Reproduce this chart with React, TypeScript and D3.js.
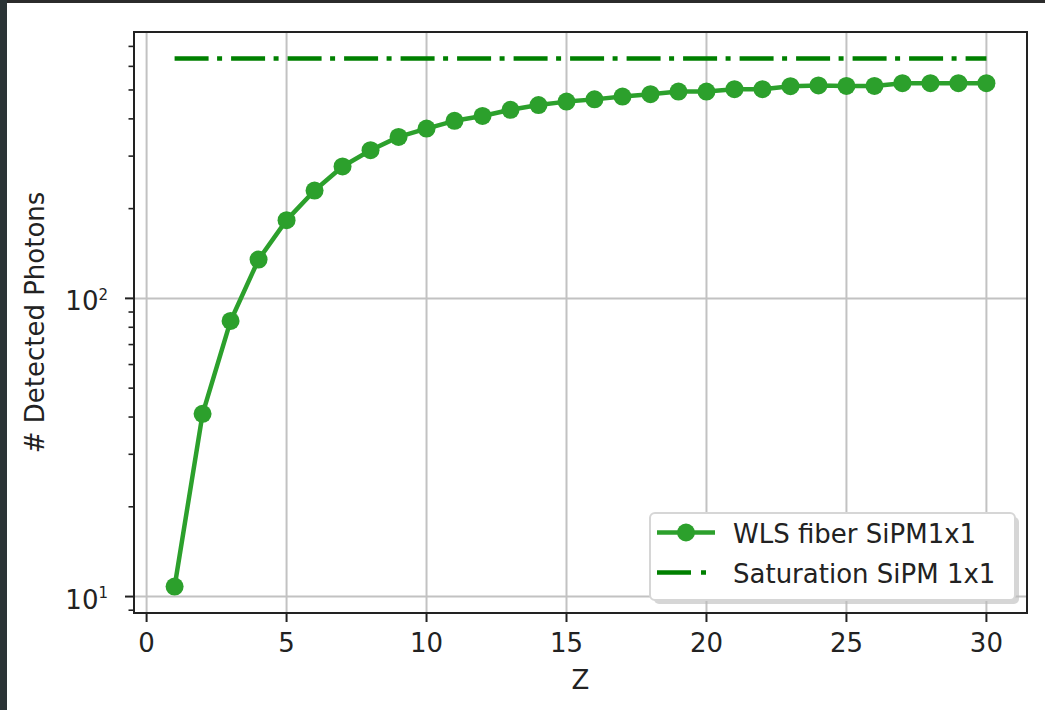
import React from "react";
import * as d3 from "d3";

const zValues = [1, 2, 3, 4, 5, 6, 7, 8, 9, 10, 11, 12, 13, 14, 15, 16, 17, 18, 19, 20, 21, 22, 23, 24, 25, 26, 27, 28, 29, 30];
const detectedPhotons = [10.8, 41, 84, 135, 183, 230, 277, 314, 348, 371, 394, 409, 429, 445, 457, 465, 475, 484, 494, 494, 503, 503, 515, 518, 516, 516, 527, 527, 527, 527];
const saturationLevel = 638;
const xTickValues = [0, 5, 10, 15, 20, 25, 30];
const seriesLabels = ["WLS fiber SiPM1x1", "Saturation SiPM 1x1"];
const xLabel = "Z";
const yLabel = "# Detected Photons";

const W = 1045;
const H = 710;
const L = 134, R = 1027, T = 32, B = 613;
const FONT = "DejaVu Sans, sans-serif";
const TEXT = "#222";
const GRID = "#c2c2c2";
const C_DATA = "#2ca02c";
const C_SAT = "#008000";

export default function App() {
  const xMin = d3.min(zValues)!, xMax = d3.max(zValues)!;
  const xm = (xMax - xMin) * 0.05;
  const x = d3.scaleLinear().domain([xMin - xm, xMax + xm]).range([L, R]);

  const lo = Math.log10(d3.min(detectedPhotons)!);
  const hi = Math.log10(Math.max(d3.max(detectedPhotons)!, saturationLevel));
  const ym = (hi - lo) * 0.05;
  const y = d3.scaleLog().domain([Math.pow(10, lo - ym), Math.pow(10, hi + ym)]).range([B, T]);

  const allYTicks = y.ticks();
  const isMajor = (v: number) => Math.abs(Math.log10(v) - Math.round(Math.log10(v))) < 1e-9;
  const majorY = allYTicks.filter(isMajor);
  const minorY = allYTicks.filter((v) => !isMajor(v));

  const line = d3.line<number>().x((_, i) => x(zValues[i])).y((d) => y(d));
  const pts = detectedPhotons;

  const legX = 650, legY = 513, legW = 365, legH = 87;
  const row1 = 532.5, row2 = 572.5;
  const hx0 = 657, hx1 = 715;

  return (
    <svg width={W} height={H} style={{ position: "absolute", left: 0, top: 0, background: "#fff" }} fontFamily={FONT}>
      <rect x={0} y={0} width={W} height={H} fill="#fff" />
      <rect x={0} y={0} width={W} height={3} fill="#2b2b2b" />
      <rect x={0} y={0} width={7} height={H} fill="#2b3436" />

      {/* grid */}
      {xTickValues.map((t) => (
        <line key={"gx" + t} x1={x(t)} x2={x(t)} y1={T} y2={B} stroke={GRID} strokeWidth={2} />
      ))}
      {majorY.map((t) => (
        <line key={"gy" + t} x1={L} x2={R} y1={y(t)} y2={y(t)} stroke={GRID} strokeWidth={2} />
      ))}

      {/* saturation line */}
      <line
        x1={x(xMin)}
        x2={x(xMax)}
        y1={y(saturationLevel)}
        y2={y(saturationLevel)}
        stroke={C_SAT}
        strokeWidth={4.5}
        strokeDasharray="34 8.5 5 9"
      />

      {/* data series */}
      <path d={line(pts)!} fill="none" stroke={C_DATA} strokeWidth={4.5} strokeLinejoin="round" />
      {pts.map((v, i) => (
        <circle key={"p" + i} cx={x(zValues[i])} cy={y(v)} r={9} fill={C_DATA} />
      ))}

      {/* spines */}
      <rect x={L} y={T} width={R - L} height={B - T} fill="none" stroke="#222" strokeWidth={2} />

      {/* x ticks */}
      {xTickValues.map((t) => (
        <g key={"xt" + t}>
          <line x1={x(t)} x2={x(t)} y1={B} y2={B + 9} stroke="#222" strokeWidth={2} />
          <text x={x(t)} y={B + 39} textAnchor="middle" fontSize={26} fill={TEXT}>
            {t}
          </text>
        </g>
      ))}

      {/* y ticks */}
      {majorY.map((t) => (
        <g key={"yt" + t}>
          <line x1={L - 9} x2={L} y1={y(t)} y2={y(t)} stroke="#222" strokeWidth={2} />
          <text x={108} y={y(t) + 12} textAnchor="end" fontSize={26} fill={TEXT}>
            10
            <tspan dy={-10.5} fontSize={15}>
              {Math.round(Math.log10(t))}
            </tspan>
          </text>
        </g>
      ))}
      {minorY.map((t) => (
        <line key={"ym" + t} x1={L - 5.5} x2={L} y1={y(t)} y2={y(t)} stroke="#222" strokeWidth={1.6} />
      ))}

      {/* axis labels */}
      <text x={(L + R) / 2} y={689} textAnchor="middle" fontSize={26} fill={TEXT}>
        {xLabel}
      </text>
      <text
        transform={`translate(${44},${(T + B) / 2}) rotate(-90)`}
        textAnchor="middle"
        fontSize={26}
        fill={TEXT}
      >
        {yLabel}
      </text>

      {/* legend */}
      <rect x={legX + 4} y={legY + 4} width={legW} height={legH} rx={5} fill="#bbb" opacity={0.6} />
      <rect x={legX} y={legY} width={legW} height={legH} rx={5} fill="#fff" stroke="#d6d6d6" strokeWidth={2} />
      <line x1={hx0} x2={hx1} y1={row1} y2={row1} stroke={C_DATA} strokeWidth={4.5} />
      <circle cx={(hx0 + hx1) / 2} cy={row1} r={9} fill={C_DATA} />
      <text x={733} y={row1 + 10} fontSize={26} fill={TEXT}>
        {seriesLabels[0]}
      </text>
      <line x1={hx0} x2={hx1} y1={row2} y2={row2} stroke={C_SAT} strokeWidth={4.5} strokeDasharray="34 10 5 20" />
      <text x={733} y={row2 + 10} fontSize={26} fill={TEXT}>
        {seriesLabels[1]}
      </text>
    </svg>
  );
}
